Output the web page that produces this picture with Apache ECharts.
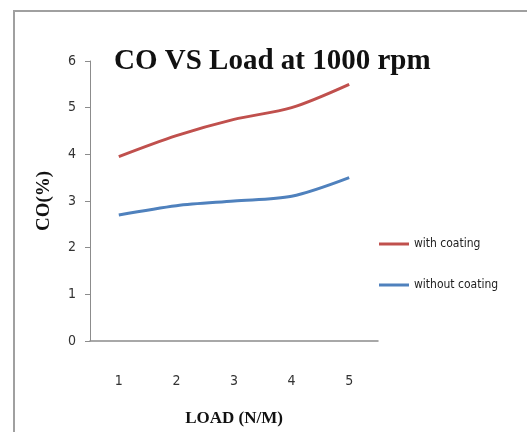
<!DOCTYPE html>
<html>
<head>
<meta charset="utf-8">
<script src="https://cdn.jsdelivr.net/npm/echarts@6/dist/echarts.min.js"></script>
<style>
  html, body { margin: 0; padding: 0; background: #fff; }
  #chart { width: 527px; height: 432px; }
</style>
</head>
<body>
<div id="chart"></div>
<script>
const loads = ['1', '2', '3', '4', '5']
const withCoating = [3.95, 4.4, 4.75, 5.0, 5.5]
const withoutCoating = [2.7, 2.9, 3.0, 3.1, 3.5]

const narrow = '"Liberation Sans Narrow", "DejaVu Sans Condensed", "Liberation Sans", sans-serif'

const chart = echarts.init(document.getElementById('chart'))
chart.setOption({
  animation: false,
  graphic: [
    {
      type: 'rect',
      shape: { x: 14, y: 11, width: 600, height: 500 },
      style: { fill: 'none', stroke: '#a0a0a0', lineWidth: 2 },
    },
  ],
  title: {
    text: 'CO VS Load at 1000 rpm',
    left: 109,
    top: 42,
    textStyle: { fontFamily: 'Liberation Serif', fontSize: 29, fontWeight: 'bold', color: '#111' },
  },
  legend: {
    orient: 'vertical',
    left: 374,
    top: 233,
    itemGap: 29,
    itemWidth: 30,
    itemHeight: 3,
    icon: 'rect',
    textStyle: { fontFamily: narrow, fontSize: 12, color: '#222' },
    data: ['with coating', 'without coating'],
  },
  grid: { left: 90, top: 61, width: 288, height: 281 },
  xAxis: {
    type: 'category',
    data: loads,
    name: 'LOAD (N/M)',
    nameLocation: 'middle',
    nameGap: 69,
    nameTextStyle: { fontFamily: 'Liberation Serif', fontSize: 17, fontWeight: 'bold', color: '#111' },
    axisLine: { lineStyle: { color: '#8c8c8c', width: 1.5 } },
    axisTick: { show: false },
    axisLabel: { margin: 33, fontFamily: narrow, fontSize: 14, color: '#333' },
  },
  yAxis: {
    type: 'value',
    min: 0,
    max: 6,
    interval: 1,
    name: 'CO(%)',
    nameLocation: 'middle',
    nameGap: 36,
    nameTextStyle: { fontFamily: 'Liberation Serif', fontSize: 19, fontWeight: 'bold', color: '#111' },
    axisLine: { show: true, lineStyle: { color: '#8c8c8c', width: 1 } },
    axisTick: { show: true, length: 5, lineStyle: { color: '#8c8c8c' } },
    axisLabel: { margin: 14, fontFamily: narrow, fontSize: 14, color: '#333' },
    splitLine: { show: false },
  },
  series: [
    {
      name: 'with coating',
      type: 'line',
      data: withCoating,
      smooth: 0.3,
      symbol: 'none',
      lineStyle: { color: '#c0504d', width: 3 },
      itemStyle: { color: '#c0504d' },
    },
    {
      name: 'without coating',
      type: 'line',
      data: withoutCoating,
      smooth: 0.3,
      symbol: 'none',
      lineStyle: { color: '#4f81bd', width: 3 },
      itemStyle: { color: '#4f81bd' },
    },
  ],
})
</script>
</body>
</html>
